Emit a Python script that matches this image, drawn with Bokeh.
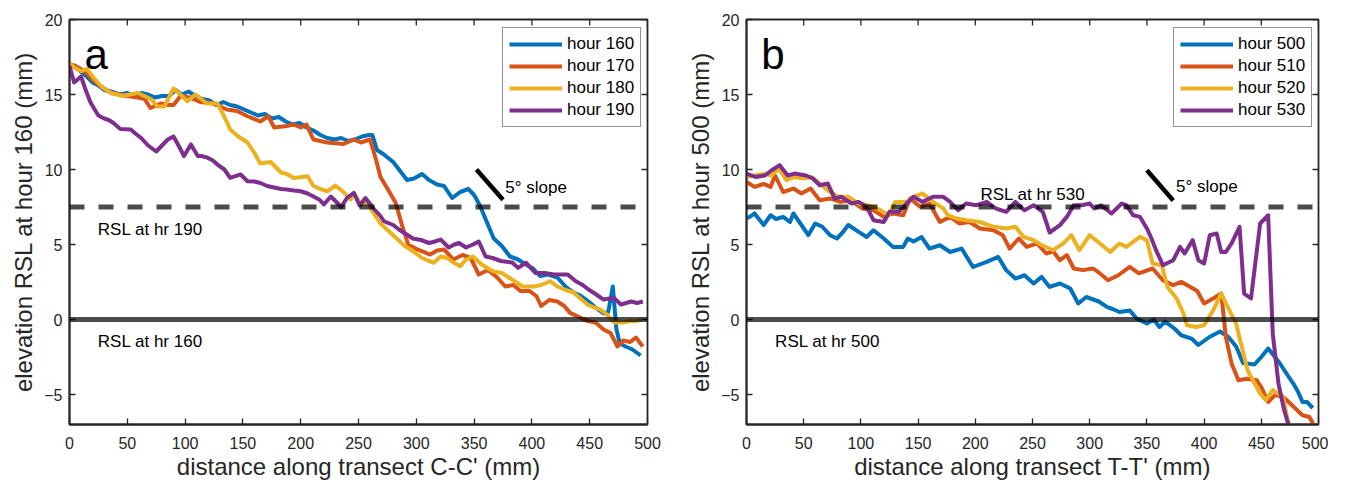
import math
from bokeh.plotting import figure
from bokeh.models import (Range1d, LinearAxis, FixedTicker, Span, Label,
                          Legend, LegendItem)
from bokeh.layouts import row
from bokeh.embed import file_html
from bokeh.resources import INLINE

FONT = "Liberation Sans"
AX = "#262626"

# ---------------- data: panel a (transect C-C') ----------------
x_160 = [0, 5, 10, 15, 20, 25, 30, 36, 43, 50, 56, 62, 68, 74, 80, 86, 92, 97, 103, 109,
         115, 121, 127, 133, 139, 145, 151, 157, 163, 169, 175, 181, 187, 193, 199, 205,
         211, 217, 223, 229, 235, 241, 247, 253, 259, 262, 266, 272, 280, 286, 292, 298,
         305, 311, 318, 324, 331, 338, 345, 350, 355, 361, 367, 374, 381, 388, 394, 401,
         407, 414, 422, 429, 436, 442, 449, 455, 462, 466, 470, 473, 476, 481, 487, 494]
y_160 = [17.0, 16.9, 16.5, 16.2, 15.8, 15.6, 15.3, 15.2, 15.0, 15.1, 14.9, 15.1, 15.0, 14.8,
         14.9, 14.9, 15.3, 15.0, 15.2, 14.9, 14.7, 14.6, 14.3, 14.5, 14.3, 14.2, 14.0, 13.8,
         13.6, 13.7, 13.4, 13.5, 13.2, 13.0, 13.1, 12.8, 12.6, 12.3, 12.1, 12.0, 12.1, 11.9,
         12.0, 12.2, 12.3, 12.3, 11.3, 11.0, 10.5, 9.9, 9.3, 9.4, 9.7, 9.3, 9.0, 8.9, 8.1,
         8.5, 8.7, 8.3, 7.6, 6.5, 5.4, 4.9, 4.2, 4.0, 3.7, 3.4, 2.9, 3.0, 2.8, 2.2, 1.8, 1.6,
         1.2, 0.8, 0.4, 0.5, 2.2, -0.6, -1.6, -1.8, -2.0, -2.4]

x_170 = [0, 5, 10, 15, 21, 28, 36, 43, 50, 59, 65, 70, 79, 85, 90, 96, 104, 113, 125, 136,
         145, 154, 165, 172, 177, 188, 194, 200, 205, 211, 223, 237, 246, 252, 260, 265,
         269, 276, 282, 288, 293, 301, 312, 318, 324, 332, 340, 347, 354, 362, 370, 377,
         384, 390, 398, 404, 408, 415, 422, 428, 433, 440, 448, 455, 462, 468, 474, 479,
         485, 490, 496]
y_170 = [17.0, 16.9, 16.7, 16.4, 15.9, 15.5, 15.1, 15.0, 14.9, 14.8, 14.7, 14.1, 14.4, 14.3,
         14.3, 14.9, 14.8, 14.5, 14.4, 14.0, 13.9, 13.55, 13.2, 13.55, 12.8, 12.9, 13.0, 12.8,
         13.0, 12.0, 11.8, 11.7, 12.0, 11.8, 12.0, 10.7, 9.5, 8.6, 7.8, 6.2, 5.0, 4.67, 4.33,
         4.6, 4.67, 4.0, 4.3, 4.1, 3.0, 3.3, 2.8, 2.2, 2.3, 1.9, 1.9, 1.55, 0.9, 1.3, 1.2,
         0.9, 0.44, 0.2, -0.1, -0.2, -0.67, -0.9, -1.8, -1.4, -1.5, -1.2, -1.8]

x_180 = [0, 4, 10, 15, 21, 28, 36, 46, 52, 59, 65, 71, 76, 82, 86, 90, 96, 102, 109, 119,
         128, 134, 139, 146, 154, 160, 165, 174, 183, 188, 194, 206, 211, 217, 223, 230,
         237, 243, 246, 252, 258, 262, 269, 276, 284, 290, 295, 305, 315, 321, 327, 332,
         338, 343, 349, 356, 362, 367, 374, 382, 392, 402, 408, 416, 422, 428, 436, 442,
         448, 454, 459, 465, 471, 478, 485, 490, 495]
y_180 = [17.1, 16.8, 16.55, 16.7, 16.1, 15.5, 15.1, 14.9, 15.0, 15.1, 14.9, 14.67, 14.2,
         14.2, 14.8, 15.4, 15.0, 14.55, 15.0, 14.4, 14.4, 13.5, 12.67, 12.2, 11.8, 11.1,
         10.4, 10.5, 9.8, 9.7, 9.44, 9.55, 8.9, 8.7, 8.55, 8.93, 8.5, 8.0, 8.4, 7.67, 7.8,
         7.2, 6.4, 5.9, 5.33, 4.9, 4.67, 4.1, 3.78, 4.2, 4.1, 3.8, 3.56, 4.0, 4.2, 3.7, 3.4,
         3.2, 3.1, 2.7, 2.2, 2.2, 2.3, 2.55, 2.2, 2.0, 1.8, 1.4, 1.0, 0.8, 0.67, 0.33, -0.2,
         -0.2, -0.1, -0.1, 0.0]

x_190 = [0, 4, 10, 14, 18, 21, 25, 30, 34, 38, 44, 53, 57, 62, 68, 75, 80, 85, 90, 95, 99,
         105, 111, 114, 119, 124, 128, 134, 139, 148, 154, 160, 165, 171, 177, 183, 188,
         194, 200, 206, 211, 216, 220, 226, 230, 235, 240, 246, 251, 256, 263, 269, 272,
         280, 285, 291, 297, 304, 311, 316, 321, 328, 333, 337, 343, 349, 354, 360, 366,
         373, 383, 388, 395, 403, 411, 419, 431, 438, 444, 449, 455, 462, 467, 471, 477,
         486, 491, 496]
y_190 = [16.9, 15.8, 16.2, 15.3, 14.5, 14.1, 13.6, 13.4, 13.3, 13.1, 12.7, 12.67, 12.4,
         12.1, 11.6, 11.2, 11.6, 12.0, 12.2, 11.5, 10.9, 11.67, 10.9, 10.9, 10.8, 10.6, 10.33,
         10.0, 9.44, 9.67, 9.22, 9.2, 9.1, 8.9, 8.8, 8.7, 8.67, 8.6, 8.55, 8.4, 8.2, 8.0, 7.67,
         8.2, 7.9, 7.5, 8.1, 8.44, 7.6, 8.1, 7.4, 6.9, 6.55, 6.3, 6.0, 5.7, 5.4, 5.3, 5.1,
         5.2, 5.33, 4.8, 5.0, 5.1, 4.8, 5.0, 5.2, 4.2, 4.1, 3.9, 3.8, 3.44, 3.78, 3.1, 3.1,
         3.0, 3.0, 2.55, 2.3, 2.0, 1.7, 1.33, 1.4, 1.44, 1.0, 1.2, 1.1, 1.2]

# ---------------- data: panel b (transect T-T') ----------------
x_500 = [0, 4, 7, 15, 21, 26, 32, 38, 41, 48, 54, 60, 66, 73, 79, 84, 89, 98, 105, 111,
         120, 128, 137, 141, 146, 153, 160, 169, 178, 188, 198, 210, 220, 227, 235, 243,
         251, 258, 265, 274, 283, 290, 297, 308, 315, 320, 326, 335, 341, 350, 356, 361,
         366, 374, 380, 389, 395, 405, 414, 421, 428, 434, 444, 450, 456, 466, 472, 478,
         482, 486, 490, 495]
y_500 = [6.73, 6.9, 7.07, 6.3, 6.95, 6.7, 6.84, 6.5, 7.07, 6.3, 5.62, 6.4, 6.2, 5.62, 5.4,
         5.8, 6.3, 5.84, 5.5, 5.95, 5.4, 4.84, 4.84, 5.4, 5.2, 5.5, 4.73, 4.95, 4.5, 4.73,
         3.5, 3.84, 4.17, 3.29, 2.73, 2.95, 2.4, 2.84, 2.17, 2.4, 2.07, 1.07, 1.5, 1.2, 0.84,
         0.7, 0.5, 0.6, 0.07, -0.27, 0.0, -0.5, -0.14, -0.6, -1.05, -1.27, -1.7, -1.15, -0.8,
         -1.15, -1.8, -2.9, -3.0, -2.5, -1.93, -2.9, -3.6, -4.27, -4.8, -5.5, -5.5, -5.9]

x_510 = [0, 7, 15, 21, 25, 32, 41, 48, 56, 64, 73, 82, 91, 101, 111, 120, 128, 137, 143,
         152, 160, 169, 178, 186, 195, 204, 216, 224, 230, 238, 245, 254, 262, 268, 274,
         280, 286, 294, 303, 309, 316, 325, 335, 343, 355, 364, 373, 380, 388, 394, 400,
         408, 415, 419, 424, 430, 437, 446, 450, 456, 462, 469, 478, 486, 492, 496]
y_510 = [9.17, 8.84, 9.04, 8.84, 9.6, 8.5, 8.73, 8.4, 8.73, 7.95, 8.07, 7.84, 7.95, 7.4,
         7.29, 6.84, 7.07, 6.95, 8.07, 7.5, 7.73, 6.5, 6.84, 6.4, 6.5, 6.07, 5.95, 5.62, 4.73,
         5.4, 4.84, 5.07, 4.4, 4.55, 3.95, 4.3, 3.4, 3.29, 3.4, 3.07, 2.62, 2.95, 3.51, 3.07,
         3.4, 2.62, 2.29, 2.51, 2.17, 1.9, 1.07, 1.4, 1.73, -1.16, -2.93, -4.05, -3.95, -4.05,
         -4.5, -5.5, -5.04, -5.15, -5.8, -6.38, -6.5, -7.04]

x_520 = [0, 7, 15, 22, 28, 35, 42, 50, 57, 64, 71, 80, 89, 98, 106, 117, 124, 130, 140,
         146, 154, 163, 172, 176, 184, 192, 204, 216, 227, 235, 242, 251, 257, 268, 277,
         284, 291, 300, 309, 318, 326, 332, 344, 350, 355, 363, 368, 376, 382, 385, 393,
         400, 408, 415, 422, 428, 433, 438, 449, 454, 460, 469, 473, 477]
y_520 = [9.5, 9.6, 9.7, 9.6, 10.07, 9.29, 9.5, 9.4, 9.5, 9.07, 8.62, 8.18, 8.18, 7.73, 7.62,
         7.29, 6.95, 7.84, 7.84, 8.18, 8.4, 7.84, 7.4, 6.95, 6.73, 6.62, 6.5, 6.18, 6.07,
         6.18, 5.51, 5.29, 5.0, 4.62, 5.07, 5.62, 4.62, 5.62, 5.07, 4.5, 5.07, 4.84, 5.51,
         5.29, 3.73, 3.62, 2.17, 1.4, 0.4, -0.38, -0.5, -0.38, 0.62, 1.73, 0.62, -0.27, -1.83,
         -3.38, -4.93, -5.38, -4.71, -5.15, -6.7, -7.6]

x_530 = [0, 8, 16, 22, 29, 36, 42, 52, 58, 64, 71, 77, 83, 92, 98, 105, 111, 120, 125, 133,
         140, 146, 154, 163, 172, 178, 185, 192, 201, 210, 218, 227, 235, 243, 251, 259, 265,
         274, 280, 286, 293, 300, 304, 310, 319, 328, 332, 338, 344, 350, 354, 358, 364, 373,
         379, 383, 390, 395, 400, 405, 411, 415, 419, 424, 431, 435, 441, 449, 456, 460, 465,
         470, 476]
y_530 = [9.73, 9.5, 9.6, 9.95, 10.29, 9.6, 9.73, 9.6, 9.4, 8.95, 9.07, 8.07, 8.18, 7.73,
         7.84, 7.51, 6.62, 6.5, 7.18, 7.18, 7.73, 8.18, 7.84, 8.18, 8.18, 7.84, 7.29, 7.73,
         7.62, 7.84, 7.4, 7.18, 7.84, 7.29, 7.62, 7.18, 5.8, 6.29, 6.84, 7.62, 7.62, 7.73, 7.4,
         7.62, 7.07, 7.73, 7.62, 6.95, 6.84, 6.07, 5.4, 4.62, 3.62, 3.95, 4.84, 4.4, 5.29,
         3.95, 3.73, 5.62, 5.73, 4.5, 4.5, 5.07, 6.18, 1.73, 1.4, 6.4, 6.95, -0.93, -4.27,
         -6.05, -7.6]

labels_a = ["hour 160", "hour 170", "hour 180", "hour 190"]
labels_b = ["hour 500", "hour 510", "hour 520", "hour 530"]
colors = ["#0072BD", "#D95319", "#EDB120", "#7E2F8E"]

x_ticks = [0, 50, 100, 150, 200, 250, 300, 350, 400, 450, 500]
y_ticks = [-5, 0, 5, 10, 15, 20]
X_MIN, X_MAX = 0, 500
Y_MIN, Y_MAX = -7, 20

rsl_levels_a = [0.0, 7.5]          # solid, dashed
rsl_texts_a = ["RSL at hr 160", "RSL at hr 190"]
rsl_levels_b = [0.0, 7.5]
rsl_texts_b = ["RSL at hr 500", "RSL at hr 530"]

SLOPE_DEG = 5.0
TICK = 6


def make_panel(series_x, series_y, names, letter, xlabel, ylabel, rsl_levels, rsl_texts,
               rsl_pos, slope_start, slope_text_pos, legend_loc, min_left, min_right,
               frame_w):
    p = figure(output_backend="svg", toolbar_location=None,
               frame_width=frame_w, frame_height=405,
               x_range=Range1d(X_MIN, X_MAX), y_range=Range1d(Y_MIN, Y_MAX),
               min_border_left=min_left, min_border_right=min_right,
               min_border_top=19, min_border_bottom=60,
               x_axis_location=None, y_axis_location=None)
    p.outline_line_color = AX
    p.outline_line_width = 1.8
    p.xgrid.visible = False
    p.ygrid.visible = False
    p.background_fill_color = "white"
    p.border_fill_color = "white"

    def mk_axis(ticks):
        ax = LinearAxis(ticker=FixedTicker(ticks=ticks))
        ax.axis_line_color = AX
        ax.axis_line_width = 1.8
        ax.major_tick_line_color = AX
        ax.major_tick_line_width = 1.3
        ax.major_tick_in = TICK
        ax.major_tick_out = 0
        ax.minor_tick_line_color = None
        ax.major_label_text_font = FONT
        ax.major_label_text_font_size = "16px"
        ax.major_label_text_color = AX
        ax.axis_label_text_font = FONT
        ax.axis_label_text_font_size = "24px"
        ax.axis_label_text_font_style = "normal"
        ax.axis_label_text_color = AX
        return ax

    bottom = mk_axis(x_ticks)
    bottom.axis_label = xlabel
    bottom.major_label_standoff = 12
    bottom.axis_label_standoff = 1
    left = mk_axis(y_ticks)
    left.axis_label = ylabel
    left.major_label_standoff = 7
    left.axis_label_standoff = 4
    p.add_layout(bottom, "below")
    p.add_layout(left, "left")

    # inward ticks on the top and right edges of the box (MATLAB "box on")
    p.ray(x=x_ticks, y=[Y_MAX] * len(x_ticks), length=TICK, length_units="screen",
          angle=-math.pi / 2, line_color=AX, line_width=1.3)
    p.ray(x=[X_MAX] * len(y_ticks), y=y_ticks, length=TICK, length_units="screen",
          angle=math.pi, line_color=AX, line_width=1.3)

    renderers = []
    for xs, ys, c in zip(series_x, series_y, colors):
        r = p.line(xs, ys, line_color=c, line_width=4, line_join="round")
        renderers.append(r)

    # reference RSL lines
    p.add_layout(Span(location=rsl_levels[0], dimension="width", line_color="black",
                      line_alpha=0.7, line_width=5))
    p.add_layout(Span(location=rsl_levels[1], dimension="width", line_color="black",
                      line_alpha=0.7, line_width=5, line_dash="15 14"))
    for (tx, ty), t in zip(rsl_pos, rsl_texts):
        p.add_layout(Label(x=tx, y=ty, text=t, text_font=FONT, text_font_size="17px",
                           text_color="black", text_baseline="alphabetic"))

    # 5 degree slope marker
    sx0, sy0 = slope_start
    seg_len = 23.0
    sx1 = sx0 + seg_len
    sy1 = sy0 - seg_len * math.tan(math.radians(SLOPE_DEG))
    p.segment(x0=[sx0], y0=[sy0], x1=[sx1], y1=[sy1], line_color="black", line_width=4.5)
    p.add_layout(Label(x=slope_text_pos[0], y=slope_text_pos[1], text="5° slope",
                       text_font=FONT, text_font_size="17px", text_color="black",
                       text_baseline="alphabetic"))

    # panel letter
    p.add_layout(Label(x=13, y=17.7, text=letter, text_font=FONT, text_font_size="42px",
                       text_color="black", text_baseline="alphabetic"))

    legend = Legend(items=[LegendItem(label=n, renderers=[r]) for n, r in zip(names, renderers)],
                    location=legend_loc)
    legend.label_text_font = FONT
    legend.label_text_font_size = "17px"
    legend.label_text_color = "black"
    legend.glyph_width = 53
    legend.glyph_height = 20
    legend.label_height = 20
    legend.label_standoff = 5
    legend.spacing = 2
    legend.padding = 6
    legend.margin = 0
    legend.border_line_color = AX
    legend.border_line_width = 1
    legend.background_fill_color = "white"
    legend.background_fill_alpha = 1.0
    p.add_layout(legend)
    return p


pa = make_panel([x_160, x_170, x_180, x_190], [y_160, y_170, y_180, y_190], labels_a, "a",
                "distance along transect C-C' (mm)", "elevation RSL at hour 160 (mm)",
                rsl_levels_a, rsl_texts_a, [(24.5, -1.49), (24.5, 6.0)],
                (352, 10.0), (377, 8.82), (433, 297), 69, 20, 578)

pb = make_panel([x_500, x_510, x_520, x_530], [y_500, y_510, y_520, y_530], labels_b, "b",
                "distance along transect T-T' (mm)", "elevation RSL at hour 500 (mm)",
                rsl_levels_b, rsl_texts_b, [(25, -1.49), (204.5, 8.35)],
                (350, 9.95), (375.5, 8.89), (427, 297), 79, 10, 572)

layout = row(pa, pb)
open("out.html", "w").write(file_html(layout, INLINE))
